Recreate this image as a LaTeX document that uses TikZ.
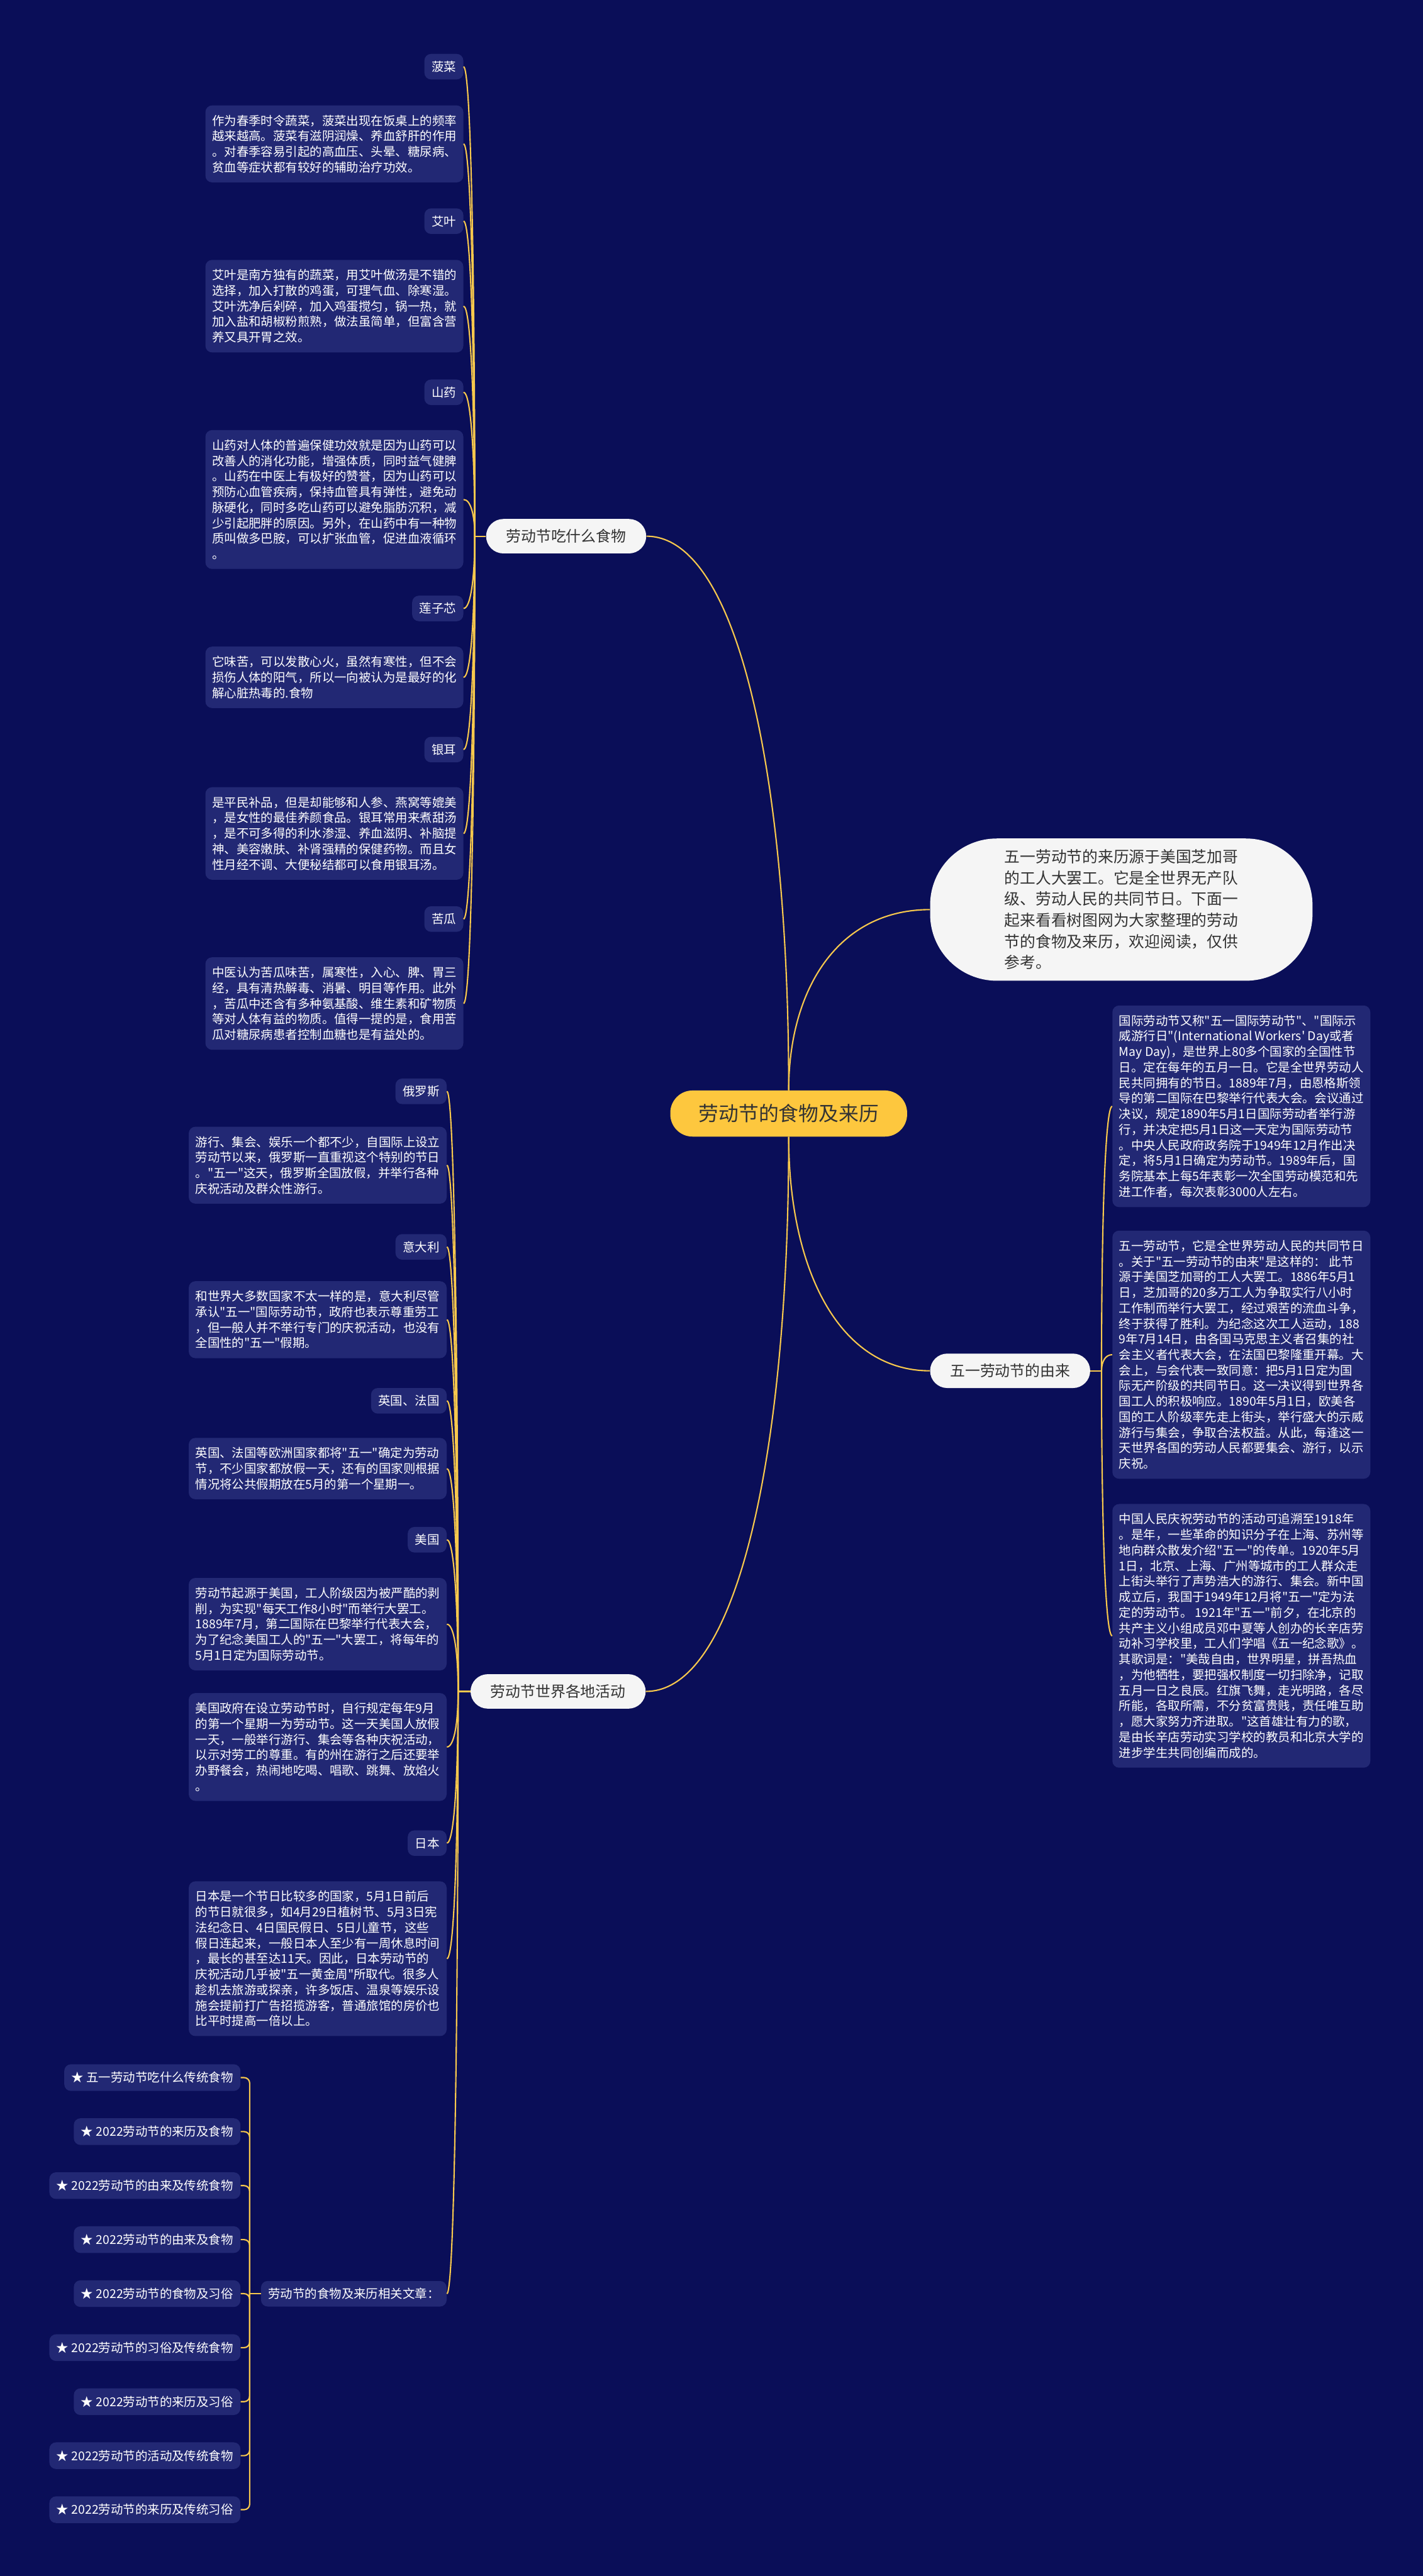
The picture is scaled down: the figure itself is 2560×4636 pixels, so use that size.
\documentclass[tikz,border=0pt]{standalone}
\usepackage{fontspec}
\newfontfamily\cjk{Noto Sans CJK SC}
\usetikzlibrary{positioning,calc}

\definecolor{bgnavy}{RGB}{10,14,88}
\definecolor{leafbg}{RGB}{34,40,116}
\definecolor{gold}{RGB}{247,200,77}
\definecolor{sun}{RGB}{253,199,62}
\definecolor{ink}{RGB}{51,51,51}
\definecolor{paper}{RGB}{245,245,245}

\begin{document}
\begin{tikzpicture}[x=0.5pt, y=-0.5pt,
    leaf/.style={fill=leafbg, text=white, rounded corners=6pt, font=\cjk\fontsize{11pt}{14pt}\selectfont, align=left, minimum width=232pt, inner xsep=6pt, inner ysep=8.5pt},
    tag/.style={fill=leafbg, text=white, rounded corners=6pt, font=\cjk\fontsize{11pt}{14pt}\selectfont, inner xsep=6.5pt, inner ysep=0pt, minimum height=23pt},
    branch/.style={fill=paper, text=ink, rounded corners=15.5pt, font=\cjk\fontsize{13.5pt}{16pt}\selectfont, inner xsep=18pt, minimum height=31pt},
    link/.style={draw=gold, line width=1.2pt},
    curv/.style={to path={.. controls ($(\tikztostart)!0.56!(\tikztostart |- \tikztotarget)$) and ($(\tikztotarget)!0.65!(\tikztostart |- \tikztotarget)$) .. (\tikztotarget)}}
]

% background
\fill[bgnavy] (0,0) rectangle (2560,4636);
\useasboundingbox (0,0) rectangle (2560,4636);

% Centre and intro
\node[fill=sun, text=ink, rounded corners=20pt, minimum width=213pt, minimum height=41.5pt, font=\cjk\fontsize{18pt}{22pt}\selectfont] (root) at (1419,2004) {劳动节的食物及来历};
\node[fill=paper, text=ink, rounded corners=60pt, minimum width=344pt, minimum height=128pt, align=left, font=\cjk\fontsize{14pt}{19pt}\selectfont, anchor=west] (intro) at (1673,1637) {
    五一劳动节的来历源于美国芝加哥\\
    的工人大罢工。它是全世界无产队\\
    级、劳动人民的共同节日。下面一\\
    起来看看树图网为大家整理的劳动\\
    节的食物及来历，欢迎阅读，仅供\\
    参考。
};

% Main branches
\node[branch, anchor=east] (food) at (1163,965) {劳动节吃什么食物};
\node[branch, anchor=west] (origin) at (1673,2467) {五一劳动节的由来};
\node[branch, anchor=east] (world) at (1162,3044) {劳动节世界各地活动};

% Food: tags and notes
\node[tag, anchor=east] (bocai) at (834,120) {菠菜};
\node[leaf, anchor=east] (bocaiTx) at (834,259) {
    作为春季时令蔬菜，菠菜出现在饭桌上的频率\\
    越来越高。菠菜有滋阴润燥、养血舒肝的作用\\
    。对春季容易引起的高血压、头晕、糖尿病、\\
    贫血等症状都有较好的辅助治疗功效。
};
\node[tag, anchor=east] (aiye) at (834,398) {艾叶};
\node[leaf, anchor=east] (aiyeTx) at (834,551) {
    艾叶是南方独有的蔬菜，用艾叶做汤是不错的\\
    选择，加入打散的鸡蛋，可理气血、除寒湿。\\
    艾叶洗净后剁碎，加入鸡蛋搅匀，锅一热，就\\
    加入盐和胡椒粉煎熟，做法虽简单，但富含营\\
    养又具开胃之效。
};
\node[tag, anchor=east] (shanyao) at (834,706) {山药};
\node[leaf, anchor=east] (shanyaoTx) at (834,899) {
    山药对人体的普遍保健功效就是因为山药可以\\
    改善人的消化功能，增强体质，同时益气健脾\\
    。山药在中医上有极好的赞誉，因为山药可以\\
    预防心血管疾病，保持血管具有弹性，避免动\\
    脉硬化，同时多吃山药可以避免脂肪沉积，减\\
    少引起肥胖的原因。另外，在山药中有一种物\\
    质叫做多巴胺，可以扩张血管，促进血液循环\\
    。
};
\node[tag, anchor=east] (lianzi) at (834,1095) {莲子芯};
\node[leaf, anchor=east] (lianziTx) at (834,1219) {
    它味苦，可以发散心火，虽然有寒性，但不会\\
    损伤人体的阳气，所以一向被认为是最好的化\\
    解心脏热毒的.食物
};
\node[tag, anchor=east] (yiner) at (834,1349) {银耳};
\node[leaf, anchor=east] (yinerTx) at (834,1500) {
    是平民补品，但是却能够和人参、燕窝等媲美\\
    ，是女性的最佳养颜食品。银耳常用来煮甜汤\\
    ，是不可多得的利水渗湿、养血滋阴、补脑提\\
    神、美容嫩肤、补肾强精的保健药物。而且女\\
    性月经不调、大便秘结都可以食用银耳汤。
};
\node[tag, anchor=east] (kugua) at (834,1654) {苦瓜};
\node[leaf, anchor=east] (kuguaTx) at (834,1806) {
    中医认为苦瓜味苦，属寒性，入心、脾、胃三\\
    经，具有清热解毒、消暑、明目等作用。此外\\
    ，苦瓜中还含有多种氨基酸、维生素和矿物质\\
    等对人体有益的物质。值得一提的是，食用苦\\
    瓜对糖尿病患者控制血糖也是有益处的。
};

% World: tags and notes
\node[tag, anchor=east] (eluosi) at (804,1964) {俄罗斯};
\node[leaf, anchor=east] (eluosiTx) at (804,2097) {
    游行、集会、娱乐一个都不少，自国际上设立\\
    劳动节以来，俄罗斯一直重视这个特别的节日\\
    。"五一"这天，俄罗斯全国放假，并举行各种\\
    庆祝活动及群众性游行。
};
\node[tag, anchor=east] (yidali) at (804,2244) {意大利};
\node[leaf, anchor=east] (yidaliTx) at (804,2375) {
    和世界大多数国家不太一样的是，意大利尽管\\
    承认"五一"国际劳动节，政府也表示尊重劳工\\
    ，但一般人并不举行专门的庆祝活动，也没有\\
    全国性的"五一"假期。
};
\node[tag, anchor=east] (yingfa) at (804,2521) {英国、法国};
\node[leaf, anchor=east] (yingfaTx) at (804,2643) {
    英国、法国等欧洲国家都将"五一"确定为劳动\\
    节，不少国家都放假一天，还有的国家则根据\\
    情况将公共假期放在5月的第一个星期一。
};
\node[tag, anchor=east] (meiguo) at (804,2771) {美国};
\node[leaf, anchor=east] (meiguoTx) at (804,2923) {
    劳动节起源于美国，工人阶级因为被严酷的剥\\
    削，为实现"每天工作8小时"而举行大罢工。\\
    1889年7月，第二国际在巴黎举行代表大会，\\
    为了纪念美国工人的"五一"大罢工，将每年的\\
    5月1日定为国际劳动节。
};
\node[leaf, anchor=east] (meiguoTxB) at (804,3144) {
    美国政府在设立劳动节时，自行规定每年9月\\
    的第一个星期一为劳动节。这一天美国人放假\\
    一天，一般举行游行、集会等各种庆祝活动，\\
    以示对劳工的尊重。有的州在游行之后还要举\\
    办野餐会，热闹地吃喝、唱歌、跳舞、放焰火\\
    。
};
\node[tag, anchor=east] (riben) at (804,3317) {日本};
\node[leaf, anchor=east] (ribenTx) at (804,3525) {
    日本是一个节日比较多的国家，5月1日前后\\
    的节日就很多，如4月29日植树节、5月3日宪\\
    法纪念日、4日国民假日、5日儿童节，这些\\
    假日连起来，一般日本人至少有一周休息时间\\
    ，最长的甚至达11天。因此，日本劳动节的\\
    庆祝活动几乎被"五一黄金周"所取代。很多人\\
    趁机去旅游或探亲，许多饭店、温泉等娱乐设\\
    施会提前打广告招揽游客，普通旅馆的房价也\\
    比平时提高一倍以上。
};
\node[tag, anchor=east] (rel) at (804,4128) {劳动节的食物及来历相关文章：};

% Related articles
\foreach \t [count=\i] in {★ 五一劳动节吃什么传统食物, ★ 2022劳动节的来历及食物, ★ 2022劳动节的由来及传统食物, ★ 2022劳动节的由来及食物, ★ 2022劳动节的食物及习俗, ★ 2022劳动节的习俗及传统食物, ★ 2022劳动节的来历及习俗, ★ 2022劳动节的活动及传统食物, ★ 2022劳动节的来历及传统习俗}
    \node[tag, anchor=east, minimum height=24pt] (art\i) at (433,{3739+97.2*(\i-1)}) {\t};

% Origin: notes
\node[leaf, anchor=west] (origA) at (2001,1991) {
    国际劳动节又称"五一国际劳动节"、"国际示\\
    威游行日"(International~Workers'~Day或者\\
    May~Day)，是世界上80多个国家的全国性节\\
    日。定在每年的五月一日。它是全世界劳动人\\
    民共同拥有的节日。1889年7月，由恩格斯领\\
    导的第二国际在巴黎举行代表大会。会议通过\\
    决议，规定1890年5月1日国际劳动者举行游\\
    行，并决定把5月1日这一天定为国际劳动节\\
    。中央人民政府政务院于1949年12月作出决\\
    定，将5月1日确定为劳动节。1989年后，国\\
    务院基本上每5年表彰一次全国劳动模范和先\\
    进工作者，每次表彰3000人左右。
};
\node[leaf, anchor=west] (origB) at (2001,2438) {
    五一劳动节，它是全世界劳动人民的共同节日\\
    。关于"五一劳动节的由来"是这样的：~此节\\
    源于美国芝加哥的工人大罢工。1886年5月1\\
    日，芝加哥的20多万工人为争取实行八小时\\
    工作制而举行大罢工，经过艰苦的流血斗争，\\
    终于获得了胜利。为纪念这次工人运动，188\\
    9年7月14日，由各国马克思主义者召集的社\\
    会主义者代表大会，在法国巴黎隆重开幕。大\\
    会上，与会代表一致同意：把5月1日定为国\\
    际无产阶级的共同节日。这一决议得到世界各\\
    国工人的积极响应。1890年5月1日，欧美各\\
    国的工人阶级率先走上街头，举行盛大的示威\\
    游行与集会，争取合法权益。从此，每逢这一\\
    天世界各国的劳动人民都要集会、游行，以示\\
    庆祝。
};
\node[leaf, anchor=west] (origC) at (2001,2944) {
    中国人民庆祝劳动节的活动可追溯至1918年\\
    。是年，一些革命的知识分子在上海、苏州等\\
    地向群众散发介绍"五一"的传单。1920年5月\\
    1日，北京、上海、广州等城市的工人群众走\\
    上街头举行了声势浩大的游行、集会。新中国\\
    成立后，我国于1949年12月将"五一"定为法\\
    定的劳动节。~1921年"五一"前夕，在北京的\\
    共产主义小组成员邓中夏等人创办的长辛店劳\\
    动补习学校里，工人们学唱《五一纪念歌》。\\
    其歌词是："美哉自由，世界明星，拼吾热血\\
    ，为他牺牲，要把强权制度一切扫除净，记取\\
    五月一日之良辰。红旗飞舞，走光明路，各尽\\
    所能，各取所需，不分贫富贵贱，责任唯互助\\
    ，愿大家努力齐进取。"这首雄壮有力的歌，\\
    是由长辛店劳动实习学校的教员和北京大学的\\
    进步学生共同创编而成的。
};

% Links from the centre
\draw[link] (root.north) to[curv] (food.east);
\draw[link] (root.north) to[curv] (intro.west);
\draw[link] (root.south) to[curv] (origin.west);
\draw[link] (root.south) to[curv] (world.east);

% Links to the food notes
\coordinate (jf) at ($(food.west)+(-20,0)$);
\draw[link] (food.west) -- (jf);
\foreach \n in {bocai,bocaiTx,aiye,aiyeTx,shanyao,shanyaoTx,lianzi,lianziTx,yiner,yinerTx,kugua,kuguaTx}
    \draw[link] (jf) to[curv] (\n.east);

% Links to the world notes
\coordinate (jw) at ($(world.west)+(-22,0)$);
\draw[link] (world.west) -- (jw);
\foreach \n in {eluosi,eluosiTx,yidali,yidaliTx,yingfa,yingfaTx,meiguo,meiguoTx,meiguoTxB,riben,ribenTx,rel}
    \draw[link] (jw) to[curv] (\n.east);

% Links to the origin notes
\coordinate (jo) at ($(origin.east)+(20,0)$);
\draw[link] (origin.east) -- (jo);
\foreach \n in {origA,origB,origC}
    \draw[link] (jo) to[curv] (\n.west);

% Bracket to the articles
\coordinate (jr) at ($(rel.west)+(-20,0)$);
\draw[link] (rel.west) -- (jr);
\foreach \i in {1,...,9}
    \draw[link, rounded corners=5pt] (jr) |- (art\i.east);

\end{tikzpicture}
\end{document}
